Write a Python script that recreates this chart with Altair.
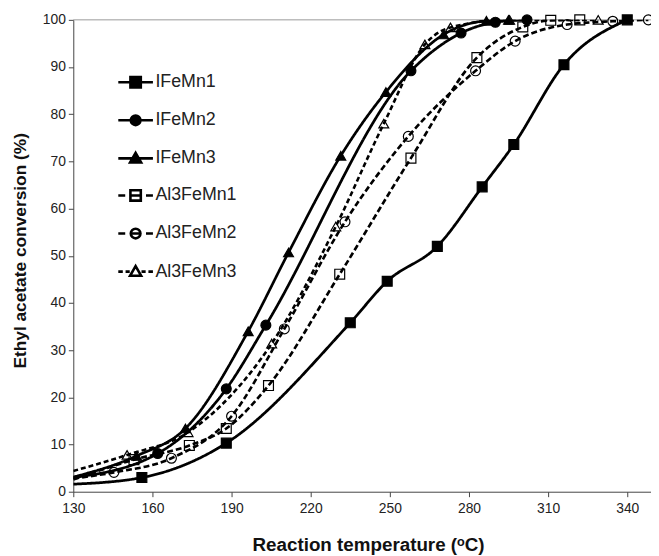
import altair as alt
import pandas as pd

series = ["IFeMn1", "IFeMn2", "IFeMn3", "Al3FeMn1", "Al3FeMn2", "Al3FeMn3"]

# value of each smoothed curve where it leaves the left axis (130 °C), no marker there
start_T = 130
start_conv = [1.6, 3.0, 3.1, 2.6, 2.8, 4.4]

T_IFeMn1 = [156, 188, 235, 249, 268, 285, 297, 316, 340]
C_IFeMn1 = [3.0, 10.3, 35.8, 44.6, 52.0, 64.6, 73.6, 90.5, 100]

T_IFeMn2 = [162, 188, 203, 258, 277, 290, 302]
C_IFeMn2 = [8.1, 21.8, 35.3, 89.2, 97.2, 99.5, 100]

T_IFeMn3 = [154, 172.5, 196.3, 211.6, 231.4, 248.5, 270.4, 286.6, 295]
C_IFeMn3 = [7.6, 13.4, 34.0, 50.7, 71.2, 84.7, 96.9, 99.8, 100]

T_Al3FeMn1 = [153, 174, 188, 204, 231, 258, 283, 300.4, 311, 322]
C_Al3FeMn1 = [6.8, 9.8, 13.4, 22.5, 46.1, 70.7, 92.0, 98.5, 99.9, 100]

T_Al3FeMn2 = [145.4, 167.2, 190, 210, 233, 257, 282.5, 297.5, 317.2, 334.5, 348]
C_Al3FeMn2 = [4.1, 7.1, 16.0, 34.5, 57.2, 75.3, 89.2, 95.5, 99.0, 99.7, 100]

T_Al3FeMn3 = [150.4, 173.5, 205.2, 229.5, 247.7, 263.3, 273, 295.4, 329]
C_Al3FeMn3 = [7.8, 12.6, 31.4, 56.2, 78.0, 94.8, 98.4, 100, 100]

x_ticks = [130, 160, 190, 220, 250, 280, 310, 340]
y_ticks = [0, 10, 20, 30, 40, 50, 60, 70, 80, 90, 100]

Ts = [T_IFeMn1, T_IFeMn2, T_IFeMn3, T_Al3FeMn1, T_Al3FeMn2, T_Al3FeMn3]
Cs = [C_IFeMn1, C_IFeMn2, C_IFeMn3, C_Al3FeMn1, C_Al3FeMn2, C_Al3FeMn3]

pt_rows, line_rows = [], []
for name, s0, ts, cs in zip(series, start_conv, Ts, Cs):
    line_rows.append({"series": name, "T": start_T, "conv": s0})
    for t, c in zip(ts, cs):
        pt_rows.append({"series": name, "T": t, "conv": c})
        line_rows.append({"series": name, "T": t, "conv": c})
pts = pd.DataFrame(pt_rows)
lines_df = pd.DataFrame(line_rows)

FONT = "Liberation Sans"

x_enc = alt.X("T:Q", scale=alt.Scale(domain=[130, 349], nice=False, zero=False),
              axis=alt.Axis(values=x_ticks, title="Reaction temperature (ᵒC)", grid=False,
                            tickSize=5, labelPadding=5, labelFlush=False,
                            titleFontSize=19, titleX=298, titleY=59, titleBaseline="alphabetic"))
y_enc = alt.Y("conv:Q", scale=alt.Scale(domain=[0, 100], nice=False),
              axis=alt.Axis(values=y_ticks, title="Ethyl acetate conversion (%)", grid=False,
                            tickSize=5, labelPadding=3, titleFontSize=17.5,
                            titleX=-44, titleY=233, titleAngle=270, titleBaseline="bottom",
                            titleAlign="center"))

top_rule = alt.Chart(pd.DataFrame({"v": [100]})).mark_rule(color="#9a9a9a", strokeWidth=1).encode(
    y=alt.Y("v:Q", scale=alt.Scale(domain=[0, 100]))
)

lines = alt.Chart(lines_df).mark_line(interpolate="monotone", color="black", clip=True).encode(
    x=x_enc,
    y=y_enc,
    detail="series:N",
    strokeDash=alt.StrokeDash("series:N", scale=alt.Scale(domain=series,
                              range=[[1, 0], [1, 0], [1, 0], [6, 3], [6, 3], [5, 3]]), legend=None),
    strokeWidth=alt.StrokeWidth("series:N", scale=alt.Scale(domain=series,
                                range=[2.8, 2.6, 1.6, 2.6, 2.6, 1.4]), legend=None),
)

points = alt.Chart(pts).mark_point(filled=True, stroke="black", strokeWidth=1.2, opacity=1, size=100).encode(
    x=x_enc,
    y=y_enc,
    shape=alt.Shape("series:N", scale=alt.Scale(domain=series,
                    range=["square", "circle", "triangle-up", "square", "circle", "triangle-up"]),
                    legend=None),
    fill=alt.Fill("series:N", scale=alt.Scale(domain=series,
                  range=["black", "black", "black", "transparent", "transparent", "transparent"]),
                  legend=None),
)

# legend symbols: line segment(s) + marker, as custom symbol paths
SQ = "M-0.3,-0.3H0.3V0.3H-0.3Z"
CI = "M-0.28,0A0.28,0.28,0,1,0,0.28,0A0.28,0.28,0,1,0,-0.28,0Z"
TR = "M0,-0.32L0.32,0.24L-0.32,0.24Z"
SOLID = "M-1,0H1"
DASH = "M-1,0H-0.6M-0.32,0H0.32M0.6,0H1"
THIN = "M-1,0H-0.74M-0.58,0H-0.34M0.34,0H0.58M0.74,0H1"
legend_paths = [SOLID + SQ, SOLID + CI, SOLID + TR, DASH + SQ, DASH + CI, THIN + TR]

leg = alt.Legend(title=None, orient="none", legendX=44, legendY=44,
                 symbolSize=1225, labelFontSize=18, labelFont=FONT, labelColor="#222",
                 labelOffset=1, rowPadding=8.5, symbolOpacity=1)

legend_layer = alt.Chart(pts).transform_filter("false").mark_point(
    filled=True, opacity=1, size=1225).encode(
    x=x_enc,
    y=y_enc,
    shape=alt.Shape("series:N", scale=alt.Scale(domain=series, range=legend_paths), legend=leg),
    fill=alt.Fill("series:N", scale=alt.Scale(domain=series,
                  range=["black", "black", "black", "transparent", "transparent", "transparent"]),
                  legend=leg),
    stroke=alt.Stroke("series:N", scale=alt.Scale(domain=series,
                      range=["black"] * 6), legend=leg),
    strokeWidth=alt.StrokeWidth("series:N", scale=alt.Scale(domain=series,
                                range=[2.6, 2.6, 1.6, 2.4, 2.4, 1.3]), legend=leg),
)

chart = alt.layer(top_rule, lines, points, legend_layer).resolve_scale(
    shape="independent", fill="independent", strokeWidth="independent", stroke="independent"
).properties(
    width=584, height=477, autosize="none",
    padding={"left": 66, "top": 9, "right": 0, "bottom": 62},
).configure_view(stroke=None).configure_axis(
    domainColor="#444", tickColor="#444", labelFont=FONT, labelFontSize=14, labelColor="#222",
    titleFont=FONT, titleFontWeight="bold", titleColor="#111",
)

chart.save("out.html", embed_options={"renderer": "svg", "actions": False})
